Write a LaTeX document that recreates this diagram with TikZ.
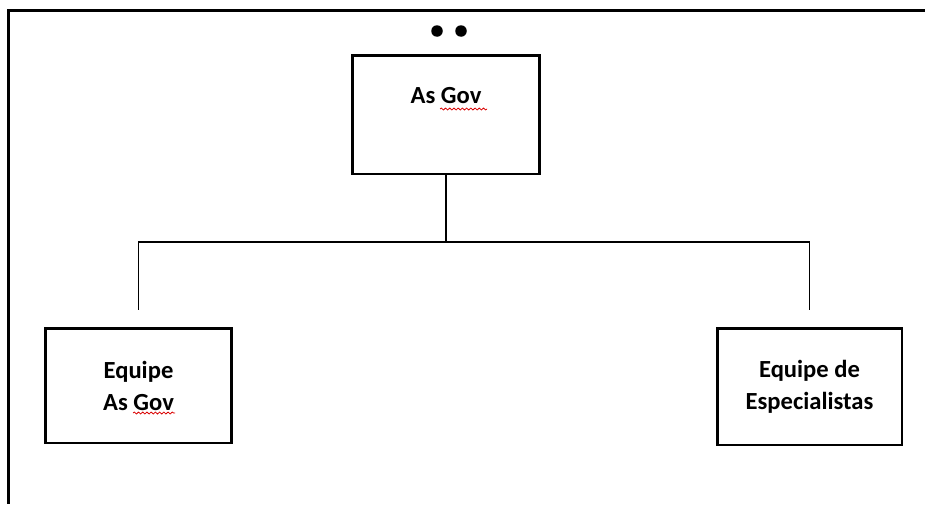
\documentclass[tikz,border=0pt]{standalone}
\usepackage{fontspec}
\setmainfont{Carlito}
\usetikzlibrary{positioning,decorations.pathmorphing}
\begin{document}
\begin{tikzpicture}[x=0.02cm,y=-0.02cm,
    box/.style={draw,line width=1.7pt,inner sep=0pt,align=center,
      font=\fontsize{14}{18.2}\selectfont\bfseries},
    lbl/.style={inner sep=0pt,font=\fontsize{14}{18.2}\selectfont\bfseries},
    conn/.style={line width=1.1pt},
    squig/.style={red!85!black,line width=0.45pt,decorate,
      decoration={snake,amplitude=0.55pt,segment length=2.4pt}}]
    \useasboundingbox (0,0) rectangle (925,504);
    \draw[line width=1.7pt] (925,10.5) -| (8.5,504);
    \fill (437,31) circle (0.115cm);
    \fill (461,31) circle (0.115cm);
    \node[box,minimum width=3.76cm,minimum height=2.38cm] (asgov) at (446,114.5) {};
    \node[lbl,anchor=base] (asgovtxt) at ([yshift=-1.0cm]asgov.north) {As Gov};
    \node[box,minimum width=3.74cm,minimum height=2.3cm] (equipe) at (138.5,385.5) {Equipe\\As Gov};
    \node[box,minimum width=3.7cm,minimum height=2.34cm] (espec) at (809.5,386.5) {Equipe de\\Especialistas};
    \coordinate (hbar) at (0,242);
    \coordinate (eqend) at ([yshift=0.34cm]equipe.north);
    \coordinate (esend) at ([yshift=0.34cm]espec.north);
    \draw[conn] (asgov.south) -- (asgov.south |- hbar);
    \draw[conn] (eqend) |- (esend |- hbar) -- (esend);
    \draw[squig] (440,109) -- (487,109);
    \draw[squig] (133,413) -- (175,413);
  \end{tikzpicture}
\end{document}
